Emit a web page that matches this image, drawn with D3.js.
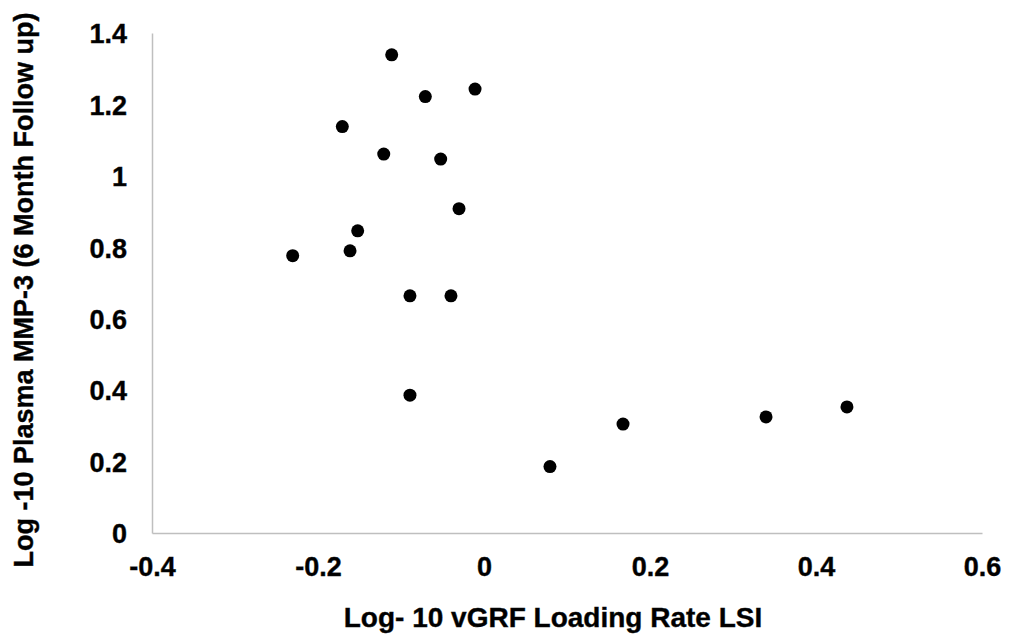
<!DOCTYPE html>
<html>
<head>
<meta charset="utf-8">
<script src="https://cdn.jsdelivr.net/npm/d3@7"></script>
<style>
  html, body { margin: 0; padding: 0; background: #fff; }
  svg { display: block; }
  text { font-family: "Liberation Sans", Arial, sans-serif; font-weight: bold; fill: #000; }
</style>
</head>
<body>
<svg id="chart" width="1010" height="637"></svg>
<script>
// Data
const xValues = [-0.2305, -0.1614, -0.1522, -0.1707, -0.1208, -0.1112, -0.0707, -0.0108, -0.0522, -0.0301, -0.0892, -0.0398, -0.0892, 0.0795, 0.1675, 0.3398, 0.4373];
const yValues = [0.7765, 0.790, 0.846, 1.138, 1.061, 1.339, 1.222, 1.243, 1.047, 0.908, 0.664, 0.664, 0.386, 0.186, 0.305, 0.325, 0.353];
const xTicks = [-0.4, -0.2, 0, 0.2, 0.4, 0.6];
const yTicks = [0, 0.2, 0.4, 0.6, 0.8, 1, 1.2, 1.4];
const xTitle = "Log- 10 vGRF Loading Rate LSI";
const yTitle = "Log -10 Plasma MMP-3 (6 Month Follow up)";

(function () {
const svg = d3.select("#chart");
const mLeft = 152, mRight = 982, mTop = 33, mBottom = 533;

const x = d3.scaleLinear().domain([-0.4, 0.6]).range([mLeft, mRight]);
const y = d3.scaleLinear().domain([0, 1.4]).range([mBottom, mTop]);

const fmt = d => (d === 0 ? "0" : String(+d.toFixed(1)));
const font = "'Liberation Sans', Arial, sans-serif";

function styleText(sel, size) {
  sel.style("font-size", size + "px").style("font-family", font).style("font-weight", "bold")
    .attr("fill", "#111").attr("stroke", "#111").attr("stroke-width", 0.4);
}

// X axis
const gx = svg.append("g").attr("transform", `translate(0,${mBottom})`)
  .call(d3.axisBottom(x).tickValues(xTicks).tickSize(0).tickPadding(0).tickFormat(fmt));
gx.select(".domain").attr("stroke", "#bfbfbf").attr("stroke-width", 1.5);
gx.selectAll(".tick text").attr("dy", null).attr("y", 43).call(styleText, 27);

// Y axis
const gy = svg.append("g").attr("transform", `translate(${mLeft},0)`)
  .call(d3.axisLeft(y).tickValues(yTicks).tickSize(0).tickPadding(0).tickFormat(fmt));
gy.select(".domain").attr("stroke", "#bfbfbf").attr("stroke-width", 1.5);
gy.selectAll(".tick text").attr("x", -25).attr("dy", "0.36em").call(styleText, 27);

// Points
svg.append("g").selectAll("circle")
  .data(xValues.map((v, i) => [v, yValues[i]]))
  .join("circle")
  .attr("cx", d => x(d[0]))
  .attr("cy", d => y(d[1]))
  .attr("r", 6.5)
  .attr("fill", "#000");

// Titles
svg.append("text")
  .attr("x", 553).attr("y", 627)
  .attr("text-anchor", "middle")
  .call(styleText, 28)
  .text(xTitle);

svg.append("text")
  .attr("transform", "translate(33,290) rotate(-90)")
  .attr("text-anchor", "middle")
  .call(styleText, 27)
  .text(yTitle);
})();
</script>
</body>
</html>
